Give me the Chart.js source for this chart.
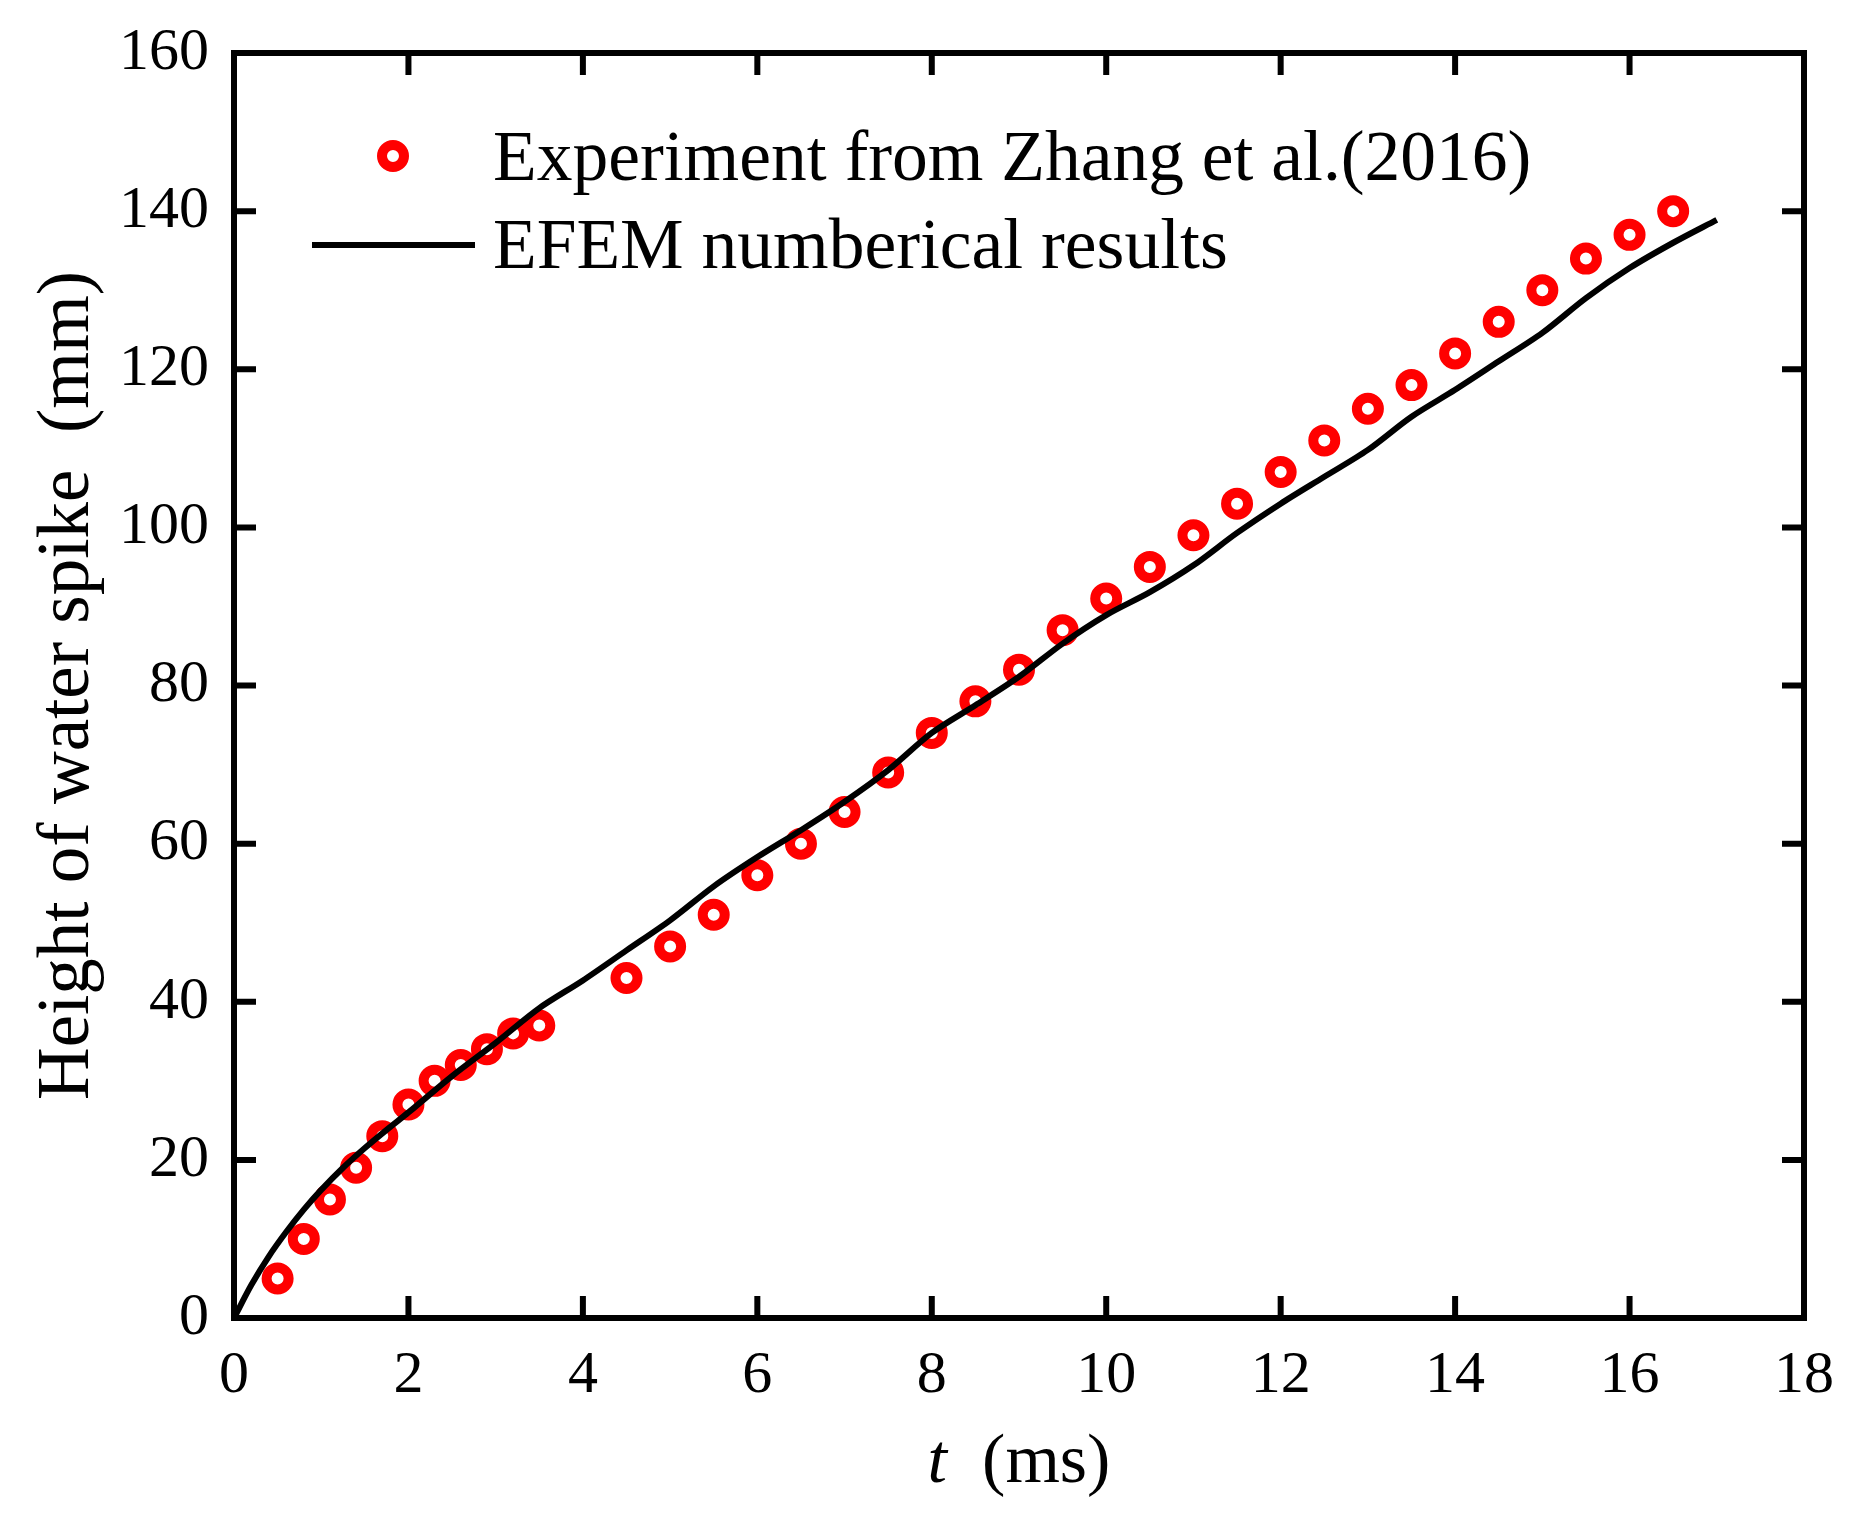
<!DOCTYPE html>
<html>
<head>
<meta charset="utf-8">
<script src="https://cdn.jsdelivr.net/npm/chart.js@4.4.0/dist/chart.umd.min.js"></script>
<style>
  html, body { margin: 0; padding: 0; background: #fff; }
  #wrap { width: 1869px; height: 1521px; }
</style>
</head>
<body>
<div id="wrap"><canvas id="chart" width="1869" height="1521"></canvas></div>
<script>
// experiment, Zhang et al. (2016)
var expTime = [0.5, 0.8, 1.1, 1.4, 1.7, 2.0, 2.3, 2.6, 2.9, 3.2, 3.5, 4.5, 5.0, 5.5, 6.0, 6.5, 7.0, 7.5,
  8.0, 8.5, 9.0, 9.5, 10.0, 10.5, 11.0, 11.5, 12.0, 12.5, 13.0, 13.5, 14.0, 14.5, 15.0, 15.5, 16.0, 16.5];
var expHeight = [5, 10, 15, 19, 23, 27, 30, 32, 34, 36, 37, 43, 47, 51, 56, 60, 64, 69,
  74, 78, 82, 87, 91, 95, 99, 103, 107, 111, 115, 118, 122, 126, 130, 134, 137, 140];

// EFEM numerical curve
var efemTime = [0, 0.2, 0.4, 0.6, 0.8, 1.0, 1.25, 1.5, 1.75, 2.0, 2.5, 3.0, 3.5, 4.0, 4.5, 5.0, 5.5, 6.0,
  6.5, 7.0, 7.5, 8.0, 8.5, 9.0, 9.5, 10.0, 10.5, 11.0, 11.5, 12.0, 12.5, 13.0, 13.5, 14.0, 14.5, 15.0,
  15.5, 16.0, 16.5, 17.0];
var efemHeight = [0, 4.2, 7.8, 10.9, 13.7, 16.2, 19.0, 21.5, 23.8, 26.0, 30.6, 34.8, 39.2, 42.7, 46.5, 50.3, 54.6, 58.3,
  61.7, 65.3, 69.3, 74.0, 77.5, 81.1, 85.3, 88.9, 91.8, 95.2, 99.3, 103.0, 106.4, 109.8, 114.0, 117.4, 121.0, 124.6,
  129.0, 132.8, 136.0, 138.9];

var xTicks = [0, 2, 4, 6, 8, 10, 12, 14, 16, 18];
var yTicks = [0, 20, 40, 60, 80, 100, 120, 140, 160];

var serif = "'Liberation Serif', 'Times New Roman', serif";

function toPoints(xs, ys) {
  return xs.map(function (x, i) { return { x: x, y: ys[i] }; });
}

// frame, inward ticks on all four sides, titles and legend
var decor = {
  id: "decor",
  afterDraw: function (chart) {
    var ctx = chart.ctx;
    var a = chart.chartArea;
    var xs = chart.scales.x;
    var ys = chart.scales.y;
    var tl = 22;
    ctx.save();
    ctx.strokeStyle = "#000";
    ctx.lineWidth = 6;
    ctx.lineCap = "butt";
    xTicks.forEach(function (v) {
      var px = xs.getPixelForValue(v);
      ctx.beginPath();
      ctx.moveTo(px, a.bottom);
      ctx.lineTo(px, a.bottom - tl);
      ctx.moveTo(px, a.top);
      ctx.lineTo(px, a.top + tl);
      ctx.stroke();
    });
    yTicks.forEach(function (v) {
      var py = ys.getPixelForValue(v);
      ctx.beginPath();
      ctx.moveTo(a.left, py);
      ctx.lineTo(a.left + tl, py);
      ctx.moveTo(a.right, py);
      ctx.lineTo(a.right - tl, py);
      ctx.stroke();
    });
    ctx.lineJoin = "miter";
    ctx.strokeRect(a.left, a.top, a.right - a.left, a.bottom - a.top);

    // x title with italic t
    ctx.fillStyle = "#000";
    ctx.textBaseline = "alphabetic";
    var cx = (a.left + a.right) / 2;
    ctx.font = "italic 70px " + serif;
    var tW = ctx.measureText("t").width;
    ctx.font = "70px " + serif;
    var rest = "  (ms)";
    var rW = ctx.measureText(rest).width;
    var x0 = cx - (tW + rW) / 2;
    ctx.textAlign = "left";
    ctx.font = "italic 70px " + serif;
    ctx.fillText("t", x0, 1482);
    ctx.font = "70px " + serif;
    ctx.fillText(rest, x0 + tW, 1482);

    // y title
    ctx.save();
    ctx.font = "73px " + serif;
    ctx.translate(88, (a.top + a.bottom) / 2);
    ctx.rotate(-Math.PI / 2);
    ctx.textAlign = "center";
    ctx.fillText("Height of water spike  (mm)", 0, 0);
    ctx.restore();

    // legend
    ctx.strokeStyle = "#ff0000";
    ctx.lineWidth = 10;
    ctx.beginPath();
    ctx.arc(393, 156, 11, 0, Math.PI * 2);
    ctx.stroke();
    ctx.strokeStyle = "#000";
    ctx.lineWidth = 6;
    ctx.beginPath();
    ctx.moveTo(312, 245);
    ctx.lineTo(475, 245);
    ctx.stroke();
    ctx.font = "71.5px " + serif;
    ctx.textAlign = "left";
    ctx.fillText("Experiment from Zhang et al.(2016)", 493, 180);
    ctx.fillText("EFEM numberical results", 493, 268);
    ctx.restore();
  }
};

new Chart(document.getElementById("chart"), {
  type: "scatter",
  data: {
    datasets: [
      {
        label: "EFEM numberical results",
        data: toPoints(efemTime, efemHeight),
        showLine: true,
        borderColor: "#000",
        borderWidth: 6,
        pointRadius: 0,
        tension: 0.3,
        order: 0
      },
      {
        label: "Experiment from Zhang et al.(2016)",
        data: toPoints(expTime, expHeight),
        pointRadius: 11,
        pointBorderWidth: 10,
        pointBorderColor: "#ff0000",
        pointBackgroundColor: "rgba(0,0,0,0)",
        order: 1
      }
    ]
  },
  options: {
    responsive: false,
    animation: false,
    devicePixelRatio: 1,
    layout: { padding: { top: 53, right: 65, left: 0, bottom: 0 } },
    plugins: { legend: { display: false }, tooltip: { enabled: false } },
    scales: {
      x: {
        type: "linear",
        min: 0,
        max: 18,
        grid: { display: false, drawTicks: false },
        border: { display: false },
        afterBuildTicks: function (scale) {
          scale.ticks = xTicks.map(function (v) { return { value: v }; });
        },
        afterFit: function (scale) {
          scale.height = 203;
          scale.paddingLeft = 0;
          scale.paddingRight = 0;
        },
        ticks: { color: "#000", padding: 22, font: { family: serif, size: 60 } }
      },
      y: {
        type: "linear",
        min: 0,
        max: 160,
        grid: { display: false, drawTicks: false },
        border: { display: false },
        afterBuildTicks: function (scale) {
          scale.ticks = yTicks.map(function (v) { return { value: v }; });
        },
        afterFit: function (scale) {
          scale.width = 234;
          scale.paddingTop = 0;
          scale.paddingBottom = 0;
        },
        ticks: { color: "#000", padding: 25, font: { family: serif, size: 60 } }
      }
    }
  },
  plugins: [decor]
});
</script>
</body>
</html>
